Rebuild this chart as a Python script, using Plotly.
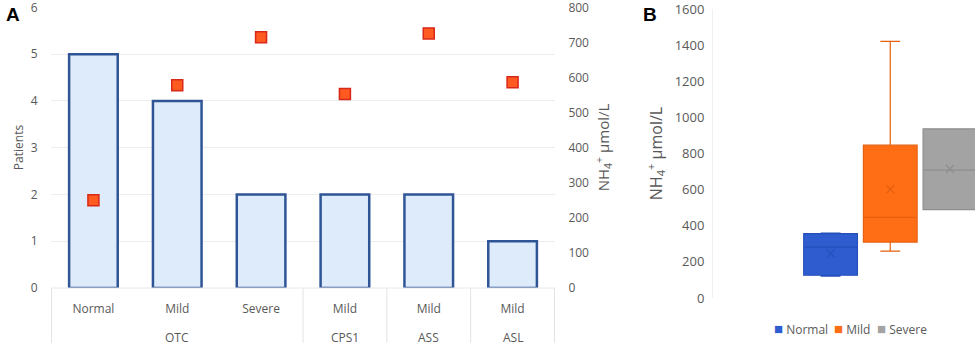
import plotly.graph_objects as go

# ---- Panel A data ----
groups = ["OTC", "OTC", "OTC", "CPS1", "ASS", "ASL"]
severity = ["Normal", "Mild", "Severe", "Mild", "Mild", "Mild"]
patients = [5, 4, 2, 2, 2, 1]
nh4_mean = [250, 578, 715, 553, 726, 587]

# ---- Panel B data ----
box_names = ["Normal", "Mild", "Severe"]
box_pos = [0, 1, 2]
box_min = [121, 260, 490]
box_q1 = [126, 310, 490]
box_median = [282, 447, 709]
box_q3 = [357, 847, 938]
box_max = [360, 1422, 938]
box_mean = [247, 603, 715]
box_fill = ["#2F5DCF", "#FF6D14", "#A3A3A3"]
box_line = ["#2550BB", "#E5600F", "#8E8E8E"]

W, H = 975, 346
def px_x(p): return p / W
def px_y(p): return 1 - p / H

cat_ids = [f"{g}|{s}|{i}" for i, (g, s) in enumerate(zip(groups, severity))]

fig = go.Figure()

fig.add_trace(go.Bar(
    x=cat_ids, y=patients,
    marker=dict(color="#DEEBFA", line=dict(color="#2F5597", width=2.5)),
    width=0.58, showlegend=False, xaxis="x", yaxis="y"))

fig.add_trace(go.Scatter(
    x=cat_ids, y=nh4_mean, mode="markers",
    marker=dict(symbol="square", size=11, color="#FF5A1F",
                line=dict(color="#D8281A", width=1.5)),
    showlegend=False, xaxis="x", yaxis="y2"))

for i in range(3):
    fig.add_trace(go.Box(
        x=[box_pos[i]], q1=[box_q1[i]], median=[box_median[i]], q3=[box_q3[i]],
        lowerfence=[box_min[i]], upperfence=[box_max[i]],
        width=0.9, whiskerwidth=0.37,
        fillcolor=box_fill[i], line=dict(color=box_line[i], width=1.2),
        showlegend=False, xaxis="x3", yaxis="y3", name=box_names[i]))
    fig.add_trace(go.Scatter(
        x=[box_pos[i]], y=[box_mean[i]], mode="markers",
        marker=dict(symbol="x-thin", size=8, line=dict(color=box_line[i], width=1.2)),
        showlegend=False, xaxis="x3", yaxis="y3"))

FONT = "Open Sans, Arial"
GREY = "#595959"
tick_font = dict(family=FONT, size=12, color=GREY)

shapes = []
annotations = []
bounds = [-0.5]
for i in range(1, len(groups)):
    if groups[i] != groups[i - 1]:
        bounds.append(i - 0.5)
bounds.append(len(groups) - 0.5)
for b in bounds:
    shapes.append(dict(type="line", xref="x", yref="paper", x0=b, x1=b,
                       y0=px_y(288), y1=px_y(343),
                       line=dict(color="#E3E3E3", width=1)))
shapes.append(dict(type="line", xref="paper", yref="paper", x0=px_x(51), x1=px_x(555),
                   y0=px_y(288), y1=px_y(288), line=dict(color="#E8E8E8", width=1)))
for a, b in zip(bounds[:-1], bounds[1:]):
    annotations.append(dict(text=groups[int(a + 0.5)], x=(a + b) / 2, xref="x",
                            y=px_y(337), yref="paper", showarrow=False,
                            xanchor="center", yanchor="middle",
                            font=dict(family=FONT, size=12, color=GREY)))

leg_x = [772, 832, 875]
for name, col, lx in zip(box_names, box_fill, leg_x):
    annotations.append(dict(
        text=f"<span style='color:{col};font-size:15px'>■</span> {name}",
        x=px_x(lx), y=px_y(328), xref="paper", yref="paper", showarrow=False,
        xanchor="left", yanchor="middle",
        font=dict(family=FONT, size=12, color=GREY)))

annotations += [
    dict(text="<b>A</b>", x=px_x(13), y=px_y(15), xref="paper", yref="paper",
         xanchor="center", yanchor="middle",
         showarrow=False, font=dict(family="Arial", size=19, color="black")),
    dict(text="<b>B</b>", x=px_x(650), y=px_y(15), xref="paper", yref="paper",
         xanchor="center", yanchor="middle",
         showarrow=False, font=dict(family="Arial", size=19, color="black")),
]

fig.update_layout(
    width=W, height=H, margin=dict(l=0, r=0, t=0, b=0, autoexpand=False),
    plot_bgcolor="white", paper_bgcolor="white",
    font=tick_font, showlegend=False,
    xaxis=dict(domain=[px_x(51), px_x(555)], type="category", automargin=False,
               tickvals=cat_ids, ticktext=severity,
               showgrid=False, zeroline=False, showline=False,
               ticks="outside", ticklen=10, tickcolor="rgba(0,0,0,0)",
               tickfont=tick_font, anchor="y"),
    yaxis=dict(domain=[px_y(288), px_y(7)], range=[0, 6.01], tick0=0, dtick=1,
               automargin=False,
               showgrid=True, gridcolor="#EDEDED", zeroline=False,
               showline=False, ticks="outside", ticklen=10, tickcolor="rgba(0,0,0,0)",
               ticklabeloverflow="allow",
               title=dict(text="Patients", font=dict(family=FONT, size=12, color=GREY), standoff=4),
               tickfont=tick_font, anchor="x"),
    yaxis2=dict(overlaying="y", side="right", range=[0, 801.3], tick0=0, dtick=100,
                automargin=False,
                showgrid=False, zeroline=False, showline=False,
                ticks="outside", ticklen=10, tickcolor="rgba(0,0,0,0)",
                ticklabeloverflow="allow",
                title=dict(text="NH<sub>4</sub><sup>+</sup> µmol/L",
                           font=dict(family=FONT, size=15, color=GREY), standoff=10),
                tickfont=tick_font, anchor="x"),
    xaxis3=dict(domain=[px_x(713), 1.0], range=[-1.97, 2.42], automargin=False,
                showticklabels=False, showgrid=False, zeroline=False,
                showline=False, anchor="y3"),
    yaxis3=dict(domain=[px_y(298), px_y(9)], range=[0, 1602], tick0=0, dtick=200,
                automargin=False,
                showgrid=False, zeroline=False, showline=True,
                linecolor="#F0F0F0", linewidth=1,
                ticks="outside", ticklen=5, tickcolor="rgba(0,0,0,0)",
                ticklabeloverflow="allow",
                title=dict(text="NH<sub>4</sub><sup>+</sup> µmol/L",
                           font=dict(family=FONT, size=16, color=GREY), standoff=8),
                tickfont=dict(family=FONT, size=13, color=GREY), anchor="x3"),
    shapes=shapes, annotations=annotations,
)

fig.write_html(
    "out.html",
    config={"displayModeBar": False},
    post_script=("document.documentElement.style.margin='0';"
                 "document.body.style.margin='0';"
                 "document.documentElement.style.overflow='hidden';"
                 "document.body.style.overflow='hidden';"),
)
